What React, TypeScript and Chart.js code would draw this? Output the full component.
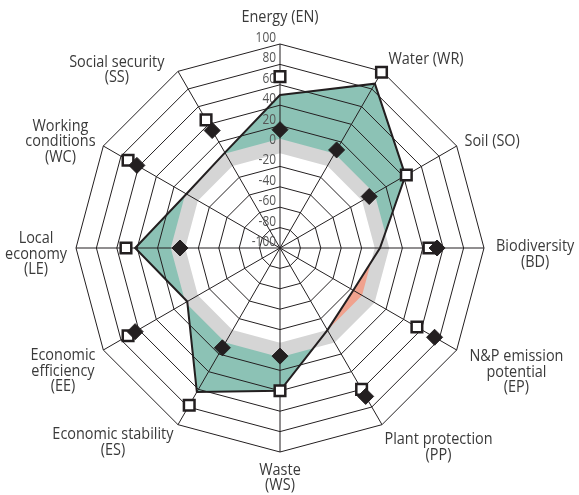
import { useEffect, useRef } from 'react';
import { Chart, registerables } from 'chart.js';

Chart.register(...registerables);

// ---- data -------------------------------------------------------------
const categories: string[][] = [
  ['Energy (EN)'],
  ['Water (WR)'],
  ['Soil (SO)'],
  ['Biodiversity', '(BD)'],
  ['N&P emission', 'potential', '(EP)'],
  ['Plant protection', '(PP)'],
  ['Waste', '(WS)'],
  ['Economic stability', '(ES)'],
  ['Economic', 'efficiency', '(EE)'],
  ['Local', 'economy', '(LE)'],
  ['Working', 'conditions', '(WC)'],
  ['Social security', '(SS)'],
];
const profileValues = [50, 86, 42, -2, -17, -7, 40, 63, 5, 42, 6, 8];
const squareValues = [68, 99, 43, 46, 55, 60, 40, 78, 72, 51, 72, 45];
const diamondValues = [16, 11, 1, 54, 75, 68, 6, 13, 64, -2, 62, 33];
const scaleMin = -100;
const scaleMax = 100;
const tickStep = 20;
const referenceValue = 0;

// ---- layout / styles (not data) ---------------------------------------
const labelNudge: [number, number][] = [
  [0, 0], [2, -4], [0, 0], [3, 0], [5, -2], [-2, 3],
  [0, 3], [0, -2], [0, -3], [0, 0], [0, 0], [-9, 6],
];
const INK = '#231f20';
const GREEN = '#8cc2b5';
const RED = '#f0a28e';
const BAND = '#d5d5d5';
const FONT = '"Open Sans", "Liberation Sans", sans-serif';
const SX = 0.85;

const decorPlugin = {
  id: 'decor',
  beforeDraw(chart: any) {
    const { ctx } = chart;
    const scale = chart.scales.r;
    const n = categories.length;
    const ring = () => {
      ctx.beginPath();
      for (let i = 0; i < n; i++) {
        const q = scale.getPointPositionForValue(i, referenceValue);
        if (i === 0) ctx.moveTo(q.x, q.y);
        else ctx.lineTo(q.x, q.y);
      }
      ctx.closePath();
    };
    const pts = chart.getDatasetMeta(2).data;
    // red: inside the reference ring, outside the profile
    ctx.save();
    ring();
    ctx.clip();
    ring();
    pts.forEach((p: any, i: number) => (i === 0 ? ctx.moveTo(p.x, p.y) : ctx.lineTo(p.x, p.y)));
    ctx.closePath();
    ctx.fillStyle = RED;
    ctx.fill('evenodd');
    ctx.restore();
    // gray band on the reference ring
    ctx.save();
    ring();
    ctx.strokeStyle = BAND;
    ctx.lineWidth = 14;
    ctx.lineJoin = 'miter';
    ctx.stroke();
    ctx.restore();
  },
  beforeDatasetsDraw(chart: any) {
    const { ctx } = chart;
    const scale = chart.scales.r;
    ctx.save();
    ctx.font = `14px ${FONT}`;
    ctx.fillStyle = '#555555';
    ctx.textAlign = 'right';
    ctx.textBaseline = 'middle';
    scale.ticks.forEach((t: any) => {
      const d = scale.getDistanceFromCenterForValue(t.value);
      ctx.save();
      ctx.translate(scale.xCenter - 4, scale.yCenter - d - 6);
      ctx.scale(SX, 1);
      ctx.fillText(t.label, 0, 0);
      ctx.restore();
    });
    ctx.restore();
  },
  afterDraw(chart: any) {
    const { ctx } = chart;
    const scale = chart.scales.r;
    const R = scale.drawingArea;
    const LH = 15.5;
    const gap = 9;
    ctx.save();
    ctx.font = `17px ${FONT}`;
    ctx.fillStyle = '#3a3a3a';
    ctx.textAlign = 'center';
    ctx.textBaseline = 'middle';
    categories.forEach((lines, i) => {
      const w = Math.max(...lines.map((l) => ctx.measureText(l).width * SX));
      const h = lines.length * LH;
      const p = scale.getPointPosition(i, R + gap);
      const ang = scale.getIndexAngle(i);
      const s = Math.sin(ang);
      const c = Math.cos(ang);
      let cx = p.x;
      if (s > 0.01) cx = p.x + w / 2;
      else if (s < -0.01) cx = p.x - w / 2;
      let top: number;
      if (c > 0.99) top = p.y - 10 - h;
      else if (c > 0.01) top = p.y - h / 2;
      else if (c >= -0.01) top = p.y - h / 2 + 6;
      else if (c < -0.99) top = p.y - 2;
      else top = p.y - 4;
      const [dx, dy] = labelNudge[i];
      lines.forEach((l, k) => {
        ctx.save();
        ctx.translate(cx + dx, top + dy + LH * (k + 0.5));
        ctx.scale(SX, 1);
        ctx.fillText(l, 0, 0);
        ctx.restore();
      });
    });
    ctx.restore();
  },
};

export default function App() {
  const ref = useRef<HTMLCanvasElement | null>(null);
  useEffect(() => {
    if (!ref.current) return;
    const chart = new Chart(ref.current, {
      type: 'radar',
      data: {
        labels: categories.map((c) => c.join(' ')),
        datasets: [
          {
            label: 'Diamonds',
            data: diamondValues,
            showLine: false,
            fill: false,
            pointStyle: 'rectRot',
            pointRadius: 8,
            pointBackgroundColor: INK,
            pointBorderColor: INK,
            pointBorderWidth: 1,
            borderWidth: 0,
          },
          {
            label: 'Squares',
            data: squareValues,
            showLine: false,
            fill: false,
            pointStyle: 'rect',
            pointRadius: 7.5,
            pointBackgroundColor: '#ffffff',
            pointBorderColor: INK,
            pointBorderWidth: 2.5,
            borderWidth: 0,
          },
          {
            label: 'Profile',
            data: profileValues,
            borderColor: INK,
            borderWidth: 2,
            backgroundColor: GREEN,
            fill: { value: referenceValue },
            pointRadius: 0,
            pointHoverRadius: 0,
          },
        ],
      },
      options: {
        animation: false,
        responsive: true,
        maintainAspectRatio: false,
        devicePixelRatio: 1,
        layout: { padding: { left: 76, top: 44, right: 95, bottom: 43 } },
        plugins: {
          legend: { display: false },
          tooltip: { enabled: false },
          filler: { drawTime: 'beforeDraw' },
        },
        elements: { line: { tension: 0 } },
        scales: {
          r: {
            min: scaleMin,
            max: scaleMax,
            startAngle: 0,
            ticks: { stepSize: tickStep, display: false },
            grid: {
              lineWidth: 1,
              color: (c: any) => (c.tick && c.tick.value === referenceValue ? 'rgba(0,0,0,0)' : INK),
            },
            angleLines: { color: INK, lineWidth: 1 },
            pointLabels: { display: false },
          },
        },
      },
      plugins: [decorPlugin],
    } as any);
    return () => chart.destroy();
  }, []);
  return (
    <div style={{ position: 'absolute', left: 0, top: 0, width: 579, height: 495 }}>
      <canvas ref={ref} />
    </div>
  );
}
